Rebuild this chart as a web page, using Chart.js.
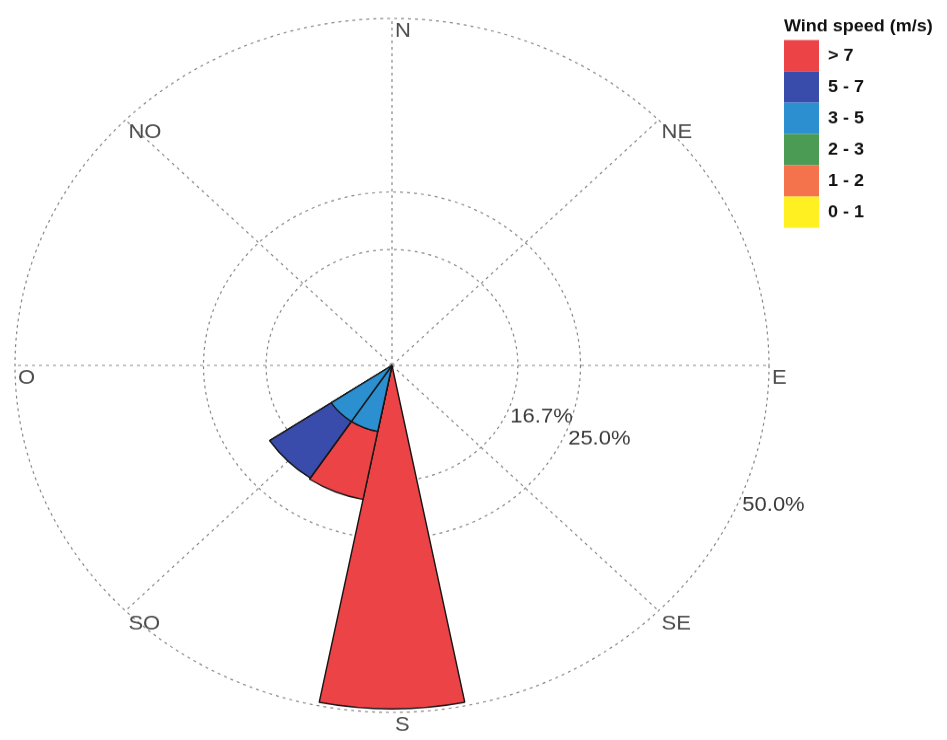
<!DOCTYPE html>
<html>
<head>
<meta charset="utf-8">
<script src="https://cdn.jsdelivr.net/npm/chart.js@4/dist/chart.umd.min.js"></script>
<style>
  body { margin: 0; background: #fff; }
</style>
</head>
<body>
<canvas id="windRose" width="947" height="804" style="width:947px;height:740px;display:block"></canvas>
<script>
// 16 sectors, clockwise from north
const directions = ["N", "NNE", "NE", "ENE", "E", "ESE", "SE", "SSE", "S", "SSW", "SW", "WSW", "W", "WNW", "NW", "NNW"];
// compass labels (french) for the 8 spokes
const compassLabels = ["N", "NE", "E", "SE", "S", "SO", "O", "NO"];
const speedClasses = ["0 - 1", "1 - 2", "2 - 3", "3 - 5", "5 - 7", "> 7"];
const speedColors = ["#fff021", "#f4724c", "#4b9b55", "#2c8fcf", "#3a4cab", "#ec4347"];

// frequency in % per direction, one array per speed class
const freq0to1   = [0, 0, 0, 0, 0, 0, 0, 0, 0,    0,    0,   0, 0, 0, 0, 0];
const freq1to2   = [0, 0, 0, 0, 0, 0, 0, 0, 0,    0,    0,   0, 0, 0, 0, 0];
const freq2to3   = [0, 0, 0, 0, 0, 0, 0, 0, 0,    0,    0,   0, 0, 0, 0, 0];
const freq3to5   = [0, 0, 0, 0, 0, 0, 0, 0, 0,    9.7,  9.7, 0, 0, 0, 0, 0];
const freq5to7   = [0, 0, 0, 0, 0, 0, 0, 0, 0,    0,    9.8, 0, 0, 0, 0, 0];
const freqAbove7 = [0, 0, 0, 0, 0, 0, 0, 0, 49.5, 10.0, 0,   0, 0, 0, 0, 0];

const ringTicks = [16.7, 25.0, 50.0];

// stacked rose: each ring is drawn at the running total, inner ones on top
const series = [freq0to1, freq1to2, freq2to3, freq3to5, freq5to7, freqAbove7];
let running = directions.map(() => 0);
const datasets = series.map((s, k) => {
  running = running.map((v, i) => v + s[i]);
  return {
    label: speedClasses[k],
    data: running.slice(),
    backgroundColor: speedColors[k],
    borderColor: "#151515",
    borderWidth: 1.4,
    rAxisID: "r"
  };
});

// direction names and ring percentages, placed with the r2 scale
const compassText = {
  id: "compassText",
  afterDraw(chart) {
    const sc = chart.scales.r2;
    const ctx = chart.ctx;
    ctx.save();
    ctx.font = '22px "Liberation Sans", Arial, sans-serif';
    ctx.textAlign = "left";
    ctx.textBaseline = "top";
    ctx.fillStyle = "#4d4d4d";
    compassLabels.forEach((t, i) => {
      const p = sc.getPointPosition(i, sc.drawingArea);
      ctx.fillText(t, p.x + 3, p.y + 3);
    });
    ctx.fillStyle = "#3a3a3a";
    ringTicks.forEach(v => {
      const p = sc.getPointPositionForValue(2.5, v);
      ctx.fillText(v.toFixed(1) + "%", p.x + 2, p.y - 3);
    });
    ctx.restore();
  }
};

// legend box is clipped to its width, make room for the title
const legendRoom = {
  id: "legendRoom",
  afterInit(chart) {
    const lg = chart.legend;
    const fit = lg.fit.bind(lg);
    lg.fit = () => {
      fit();
      lg.width = 160;
    };
  }
};

Chart.defaults.font.family = '"Liberation Sans", Arial, sans-serif';

new Chart("windRose", {
  type: "polarArea",
  data: {
    labels: directions,
    datasets: datasets
  },
  options: {
    responsive: false,
    devicePixelRatio: 1,
    animation: false,
    layout: {
      padding: { left: 0, right: 3, top: 20, bottom: 30 }
    },
    scales: {
      r: {
        type: "radialLinear",
        display: false,
        min: 0,
        max: 50,
        startAngle: -11.25,
        ticks: { display: false },
        pointLabels: { display: false }
      },
      r2: {
        type: "radialLinear",
        axis: "r",
        min: 0,
        max: 50,
        startAngle: 0,
        labels: compassLabels,
        afterBuildTicks: sc => {
          sc.ticks = [0].concat(ringTicks).map(v => ({ value: v }));
        },
        ticks: { display: false },
        pointLabels: { display: false },
        angleLines: { display: true, color: "#858585", lineWidth: 1.2, borderDash: [3, 4] },
        grid: { circular: true, color: "#858585", lineWidth: 1.2 },
        border: { dash: [3, 4] }
      }
    },
    plugins: {
      tooltip: { enabled: false },
      legend: {
        position: "right",
        align: "start",
        reverse: true,
        title: {
          display: true,
          text: "Wind speed (m/s)",
          position: "start",
          color: "#111",
          font: { size: 18, weight: "bold" },
          padding: { top: 0, bottom: 2 }
        },
        labels: {
          boxWidth: 35,
          boxHeight: 34,
          padding: 0,
          color: "#111",
          font: { size: 18, weight: "bold" },
          generateLabels: chart => chart.data.datasets.map((ds, i) => ({
            text: ds.label,
            fillStyle: ds.backgroundColor,
            strokeStyle: "rgba(0,0,0,0)",
            lineWidth: 0,
            hidden: false,
            datasetIndex: i
          }))
        }
      }
    }
  },
  plugins: [compassText, legendRoom]
});
</script>
</body>
</html>
